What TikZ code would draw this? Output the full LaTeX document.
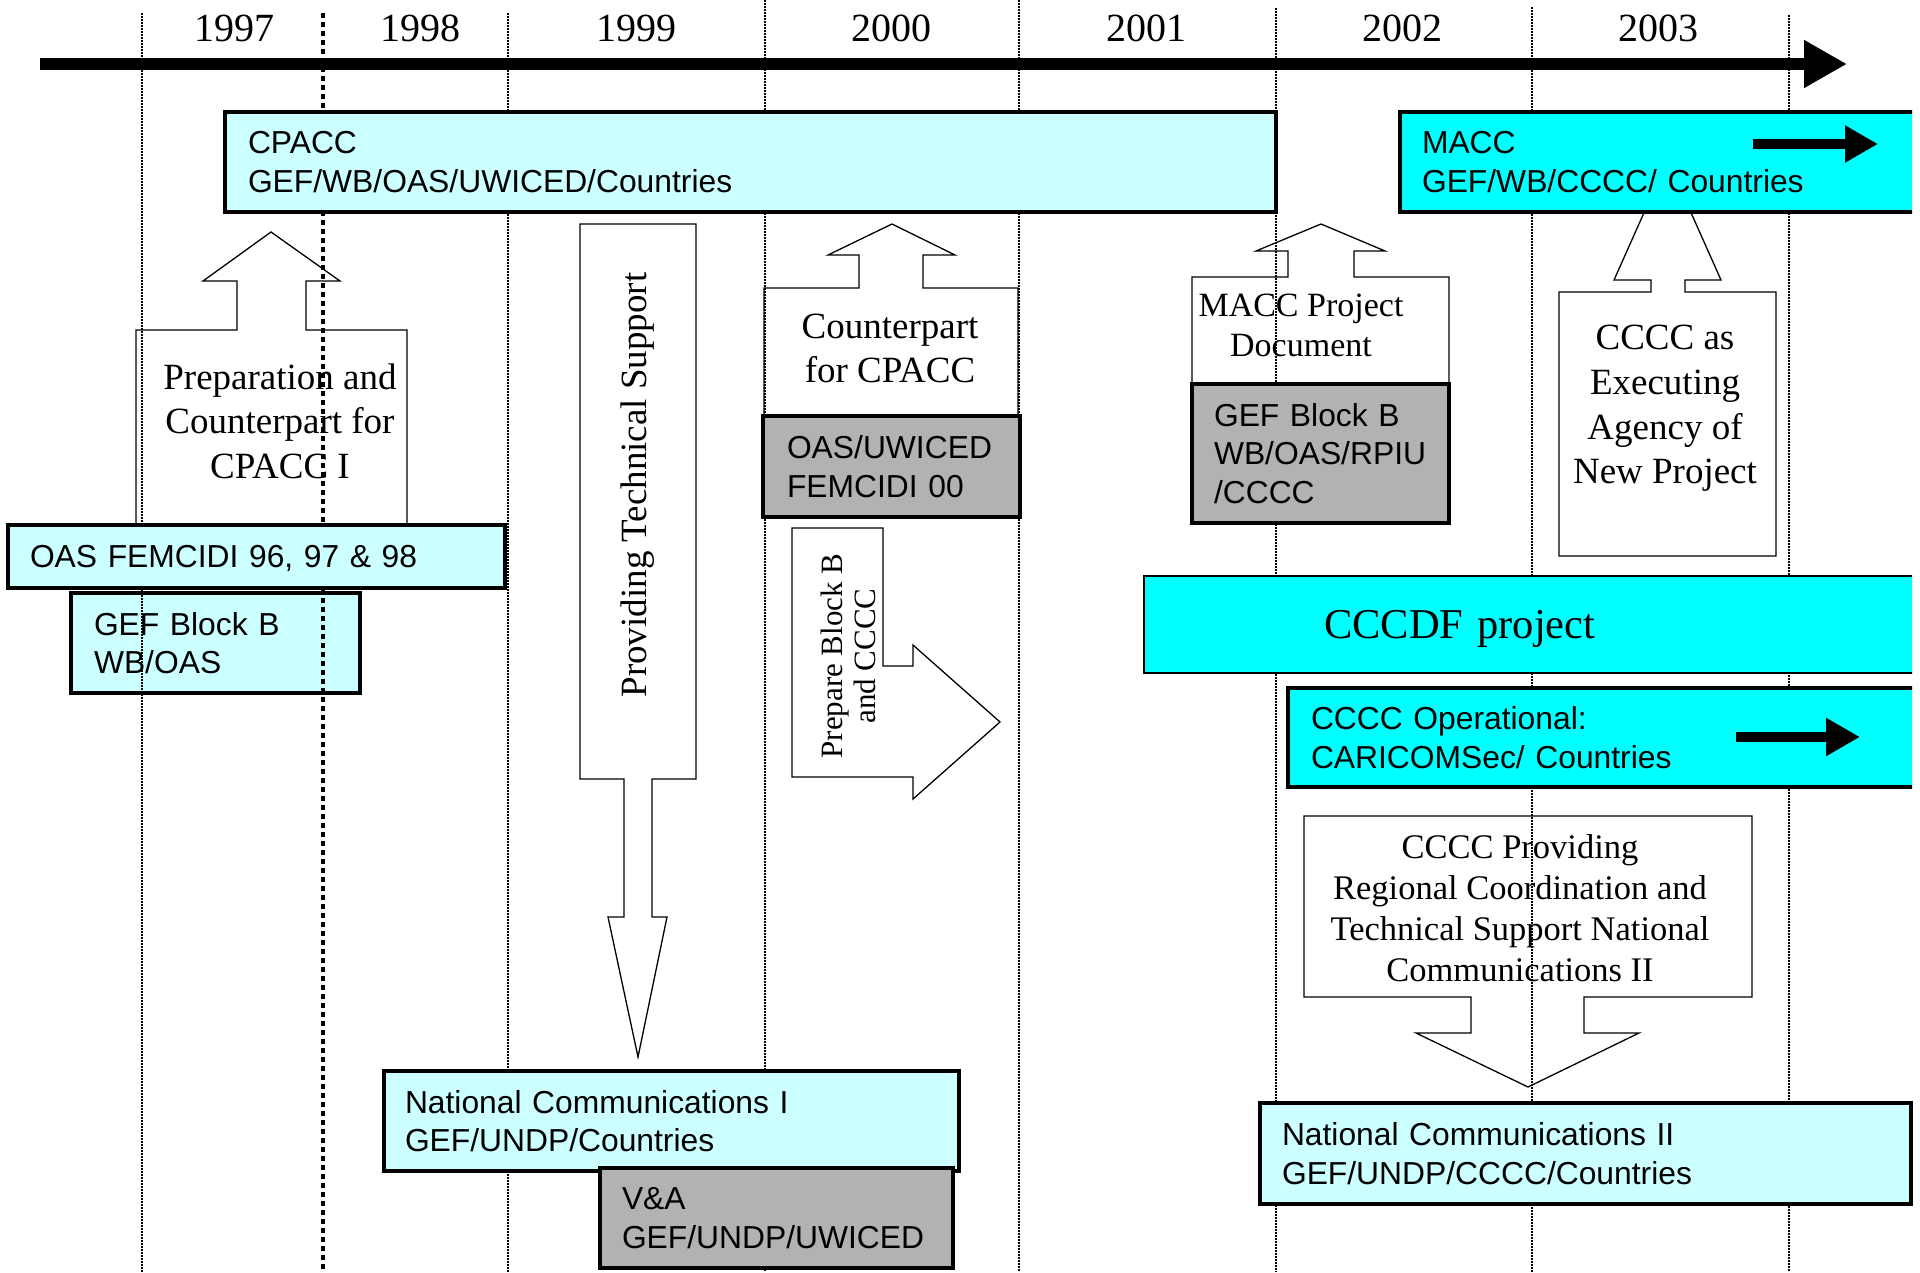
\documentclass[tikz,border=0pt]{standalone}
\usepackage{fontspec}
\setmainfont{Liberation Serif}
\setsansfont{Liberation Sans}
\usetikzlibrary{arrows.meta}
\definecolor{lcyan}{HTML}{CCFFFF}
\definecolor{fcyan}{HTML}{00FFFF}
\definecolor{gbox}{HTML}{B2B2B2}
\newcommand\fsz[2]{\fontsize{#1}{#2}\selectfont}
\begin{document}
\begin{tikzpicture}[x=1pt,y=-1pt,
  gridline/.style={line width=1.2pt, dash pattern=on 1.5pt off 1.5pt},
  thickgrid/.style={line width=4pt, dash pattern=on 5pt off 4pt},
  callout/.style={draw, line width=1.3pt, fill=white, line join=miter},
  ctext/.style={align=center, inner sep=0pt},
  year/.style={font=\fsz{40}{48}, inner sep=0pt},
  box/.style={draw, line width=4pt, outer sep=0pt, align=left,
    font=\sffamily\fsz{31.8}{38.5}, inner ysep=0pt},
  lcbox/.style={box, fill=lcyan},
  cbox/.style={box, fill=fcyan},
  gybox/.style={box, fill=gbox},
  inarrow/.style={line width=10pt}
]
\useasboundingbox (0,0) rectangle (1920,1272);
\fill[white] (0,0) rectangle (1920,1272);

% ---- callout arrows (drawn first, grid lines pass over them)
\draw[callout] (136,525) -- (136,330) -- (237,330) -- (237,281) -- (203,281)
  -- (271,232) -- (340,281) -- (306,281) -- (306,330) -- (407,330) -- (407,525);
\node[ctext, font=\fsz{37}{44.5}] (prep) at (280,421)
  {Preparation and\\Counterpart for\\CPACC I};

\draw[callout] (580,224) -- (696,224) -- (696,779) -- (652,779) -- (652,917)
  -- (667,917) -- (638,1057) -- (608,917) -- (624,917) -- (624,779) -- (580,779) -- cycle;
\node[ctext, font=\fsz{37}{44}, rotate=90] (pts) at (638,485)
  {Providing Technical Support};

\draw[callout] (764,415) -- (764,288) -- (859,288) -- (859,255) -- (828,255)
  -- (892,224) -- (955,255) -- (923,255) -- (923,288) -- (1018,288) -- (1018,415);
\node[ctext, font=\fsz{37}{44}] (cpart) at (890,348)
  {Counterpart\\for CPACC};

\draw[callout] (792,528) -- (883,528) -- (883,666) -- (913,666) -- (913,645)
  -- (1000,722) -- (913,799) -- (913,777) -- (792,777) -- cycle;
\node[ctext, font=\fsz{31}{33}, rotate=90] (prepb) at (848,656)
  {Prepare Block B\\and CCCC};

\draw[callout] (1192,384) -- (1192,277) -- (1288,277) -- (1288,251) -- (1256,251)
  -- (1321,224) -- (1385,251) -- (1354,251) -- (1354,277) -- (1449,277) -- (1449,384);
\node[ctext, font=\fsz{34}{40}] (maccdoc) at (1301,325)
  {MACC Project\\Document};

\draw[callout] (1559,556) -- (1559,292) -- (1651,292) -- (1651,280) -- (1614,280)
  -- (1667.5,160) -- (1721,280) -- (1685,280) -- (1685,292) -- (1776,292) -- (1776,556) -- cycle;
\node[ctext, font=\fsz{37}{44.6}] (cexec) at (1665,408.5)
  {CCCC as\\Executing\\Agency of\\New Project};

\draw[callout] (1304,816) -- (1752,816) -- (1752,997) -- (1584,997) -- (1584,1033)
  -- (1639,1033) -- (1528,1087) -- (1416,1033) -- (1471,1033) -- (1471,997) -- (1304,997) -- cycle;
\node[ctext, font=\fsz{34.5}{41}] (cprov) at (1520,908)
  {CCCC Providing\\Regional Coordination and\\Technical Support National\\Communications II};

% ---- box under the grid lines
\node[lcbox, minimum height=100pt, text width=243pt, inner xsep=23pt] (gefb1) at (215.5,643)
  {GEF Block B\\WB/OAS};

% ---- grid lines
\draw[gridline] (142,13) -- (142,1272);
\draw[thickgrid] (323,13) -- (323,1272);
\draw[gridline] (508,13) -- (508,1272);
\draw[gridline] (765,0) -- (765,1272);
\draw[gridline] (1019,0) -- (1019,1272);
\draw[gridline] (1276,8) -- (1276,1272);
\draw[gridline] (1532,7) -- (1532,1272);
\draw[gridline] (1789,15) -- (1789,1272);

% ---- timeline
\coordinate (t0) at (40,64);
\coordinate (t1) at (1847,64);
\draw[line width=12pt, -{Triangle[length=43pt,width=45pt]}] (t0) -- (t1);
\node[year] (y1997) at (234,28.5) {1997};
\node[year] (y1998) at (420,28.5) {1998};
\node[year] (y1999) at (636,28.5) {1999};
\node[year] (y2000) at (891,28.5) {2000};
\node[year] (y2001) at (1146,28.5) {2001};
\node[year] (y2002) at (1402,28.5) {2002};
\node[year] (y2003) at (1658,28.5) {2003};

% ---- boxes
\node[lcbox, minimum height=100pt, text width=1005pt, inner xsep=23pt] (cpacc) at (750.5,162)
  {CPACC\\GEF/WB/OAS/UWICED/Countries};
\node[lcbox, minimum height=63pt, text width=453pt, inner xsep=22pt, text depth=0pt] (oasf) at (256.5,556.5)
  {OAS FEMCIDI 96, 97 \& 98};
\node[gybox, minimum height=101pt, text width=209pt, inner xsep=24pt] (oasu) at (891.5,466.5)
  {OAS/UWICED\\FEMCIDI 00};
\node[gybox, minimum height=139pt, text width=213pt, inner xsep=22pt] (gefb2) at (1320.5,453.5)
  {GEF Block B\\WB/OAS/RPIU\\/CCCC};
\node[lcbox, minimum height=100pt, text width=533pt, inner xsep=21pt] (nc1) at (671.5,1121)
  {National Communications I\\GEF/UNDP/Countries};
\node[gybox, minimum height=100pt, text width=309pt, inner xsep=22pt] (va) at (776.5,1218)
  {V\&A\\GEF/UNDP/UWICED};
\node[lcbox, minimum height=101pt, text width=607pt, inner xsep=22pt] (nc2) at (1585.5,1153.5)
  {National Communications II\\GEF/UNDP/CCCC/Countries};

\begin{scope}
\clip (0,0) rectangle (1912,1272);
\node[cbox, minimum height=100pt, text width=496pt, inner xsep=22pt] (macc) at (1670,162)
  {MACC\\GEF/WB/CCCC/ Countries};
\node[cbox, line width=2pt, minimum height=97pt, text width=436pt, inner xsep=180pt,
  text depth=0pt, font=\fsz{42.5}{50}] (cccdf) at (1542,624.5)
  {CCCDF project};
\node[cbox, minimum height=99pt, text width=606pt, inner xsep=23pt] (cccop) at (1614,737.5)
  {CCCC Operational:\\CARICOMSec/ Countries};
\end{scope}

% ---- arrows inside boxes
\coordinate (ma0) at (1753,144);
\coordinate (ma1) at (1878,144);
\draw[inarrow, -{Triangle[length=33pt,width=35pt]}] (ma0) -- (ma1);
\coordinate (oa0) at (1736,737);
\coordinate (oa1) at (1860,737);
\draw[inarrow, -{Triangle[length=34pt,width=36pt]}] (oa0) -- (oa1);
\end{tikzpicture}
\end{document}
